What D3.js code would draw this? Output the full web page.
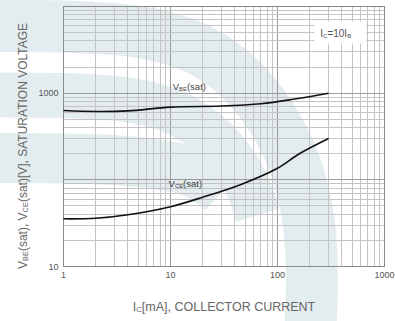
<!DOCTYPE html>
<html>
<head>
<meta charset="utf-8">
<script src="https://cdn.jsdelivr.net/npm/d3@7"></script>
<style>
  body { margin: 0; background: #fff; }
  svg { display: block; font-family: "Liberation Sans", Arial, sans-serif; }
</style>
</head>
<body>
<svg id="chart"></svg>
<script>
// collector current [mA] vs saturation voltage, Ic = 10 Ib
const icBE = [1, 2, 4, 10, 30, 70, 140, 300];
const vBE = [630, 615, 625, 690, 710, 755, 850, 1000];
const icCE = [1, 2, 4, 10, 20, 45, 100, 160, 300];
const vCE = [35.5, 36, 39.5, 49, 63, 88, 136, 200, 300];
const xTickLabels = [1, 10, 100, 1000];
const yTickLabels = [10, 1000];

const W = 395, H = 321;
const margin = { left: 63.5, right: 10.5, top: 6.5, bottom: 54.5 };
const iw = W - margin.left - margin.right;
const ih = H - margin.top - margin.bottom;

const svg = d3.select("#chart").attr("width", W).attr("height", H);

// faint logo watermark behind the chart (decoration only)
const wm = svg.append("g").attr("fill", "none").attr("stroke", "#e3edef");
const band = d3.line().curve(d3.curveBasis);
wm.append("path").attr("stroke-width", 52)
  .attr("d", band([[-10, 26], [130, 26], [210, 48], [266, 102], [302, 172], [314, 250], [310, 340]]));
wm.append("path").attr("stroke-width", 45)
  .attr("d", band([[-10, 95], [110, 95], [175, 108], [220, 140], [247, 180], [258, 215]]));
wm.append("path").attr("stroke-width", 50)
  .attr("d", band([[-10, 158], [100, 158], [160, 164], [200, 172], [222, 192]]));

const g = svg.append("g").attr("transform", `translate(${margin.left},${margin.top})`);

const x = d3.scaleLog().domain([1, 1000]).range([0, iw]);
const y = d3.scaleLog().domain([10, 10000]).range([ih, 0]);

const isDecade = v => Math.abs(Math.log10(v) - Math.round(Math.log10(v))) < 1e-9;

// grid
g.append("g").selectAll("line").data(x.ticks())
  .enter().append("line")
  .attr("x1", d => Math.round(x(d))).attr("x2", d => Math.round(x(d)))
  .attr("y1", 0).attr("y2", ih)
  .attr("stroke", d => isDecade(d) ? "#9a9a9a" : "#c4c4c4")
  .attr("stroke-width", 1);

g.append("g").selectAll("line").data(y.ticks())
  .enter().append("line")
  .attr("y1", d => Math.round(y(d))).attr("y2", d => Math.round(y(d)))
  .attr("x1", 0).attr("x2", iw)
  .attr("stroke", d => isDecade(d) ? "#9a9a9a" : "#c4c4c4")
  .attr("stroke-width", 1);

g.append("rect")
  .attr("width", iw).attr("height", ih)
  .attr("fill", "none").attr("stroke", "#8a8a8a").attr("stroke-width", 1);

// curves
const line = d3.line().curve(d3.curveCatmullRom.alpha(0.5));
g.append("path")
  .attr("d", line(icBE.map((c, i) => [x(c), y(vBE[i])])))
  .attr("fill", "none").attr("stroke", "#111").attr("stroke-width", 1.6);
g.append("path")
  .attr("d", line(icCE.map((c, i) => [x(c), y(vCE[i])])))
  .attr("fill", "none").attr("stroke", "#111").attr("stroke-width", 1.6);

// tick labels
g.append("g").selectAll("text").data(xTickLabels)
  .enter().append("text")
  .attr("x", d => x(d)).attr("y", ih + 11.5)
  .attr("text-anchor", "middle")
  .attr("font-size", 9).attr("fill", "#555")
  .text(d => d);

g.append("g").selectAll("text").data(yTickLabels)
  .enter().append("text")
  .attr("x", -5).attr("y", d => y(d) + 3)
  .attr("text-anchor", "end")
  .attr("font-size", 9).attr("fill", "#555")
  .text(d => d);

// text with subscripts: parts = [[text, isSub], ...]
function richText(sel, parts, size) {
  parts.forEach(([t, sub]) => {
    sel.append("tspan")
      .attr("font-size", sub ? size * 0.62 : size)
      .attr("baseline-shift", sub ? "-12%" : null)
      .text(t);
  });
  return sel;
}

// curve labels
richText(g.append("text").attr("x", x(10.5)).attr("y", y(vBE[3]) - 17).attr("fill", "#444"),
  [["V", false], ["BE", true], ["(sat)", false]], 9.5);
richText(g.append("text").attr("x", x(9.6)).attr("y", y(vCE[3]) - 20).attr("fill", "#444"),
  [["V", false], ["CE", true], ["(sat)", false]], 9.5);

// condition box
const box = g.append("g").attr("transform", `translate(${x(220)},${y(6700)})`);
box.append("rect").attr("x", 0).attr("y", 0).attr("width", 52).attr("height", 22).attr("fill", "#fff");
richText(box.append("text").attr("x", 6).attr("y", 15).attr("fill", "#555"),
  [["I", false], ["C", true], ["=10I", false], ["B", true]], 10);

// axis titles
richText(svg.append("text")
  .attr("x", margin.left + iw / 2).attr("y", H - 10)
  .attr("text-anchor", "middle").attr("fill", "#666"),
  [["I", false], ["C", true], ["[mA], COLLECTOR CURRENT", false]], 12.5);

richText(svg.append("text")
  .attr("transform", `translate(27,${146}) rotate(-90)`)
  .attr("text-anchor", "middle").attr("fill", "#666"),
  [["V", false], ["BE", true], ["(sat), V", false], ["CE", true], ["(sat)[V], SATURATION VOLTAGE", false]], 12);
</script>
</body>
</html>
